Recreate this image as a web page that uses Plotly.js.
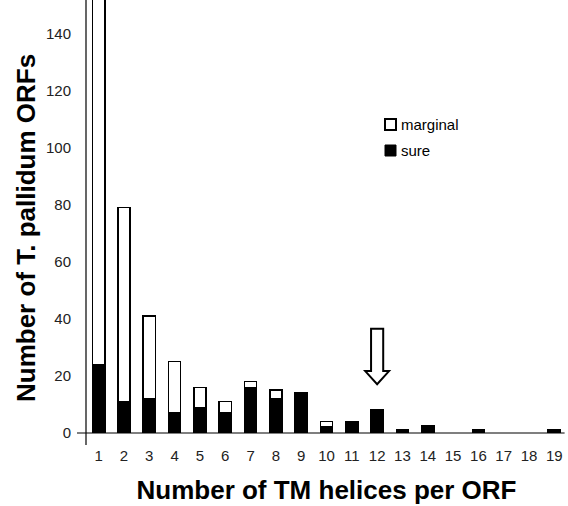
<!DOCTYPE html>
<html>
<head>
<meta charset="utf-8">
<script src="https://cdn.plot.ly/plotly-3.0.1.min.js"></script>
<style>html,body{margin:0;padding:0;background:#fff;}#chart{width:568px;height:506px;}</style>
</head>
<body>
<div id="chart"></div>
<script>
const helices = [1,2,3,4,5,6,7,8,9,10,11,12,13,14,15,16,17,18,19];
const tickLabels = helices.map(String);
const sure     = [24,11,12,7,9,7,16,12,14,2,4,8,1,2.5,0,1,0,0,1];
const marginal = [146,68,29,18,7,4,2,3,0,2,0,0,0,0,0,0,0,0,0];
const legendNames = ['marginal','sure'];
const xTitle = 'Number of TM helices per ORF';
const yTitle = 'Number of T. pallidum ORFs';
const arrowX = 12, arrowTop = 36.5, arrowNeck = 21.7, arrowTip = 17.1;

const font = 'Liberation Sans, Arial, sans-serif';
const barLine = {color:'#000', width:1.6};
const traces = [
  {type:'bar', x:helices, y:sure.map(v => v === 0 ? null : v), name:legendNames[1], width:0.48,
   marker:{color:'#000', line:barLine}},
  {type:'bar', x:helices, y:marginal.map(v => v === 0 ? null : v), name:legendNames[0], width:0.48,
   marker:{color:'#fff', line:barLine}}
];

const sw = 0.24, hw = 0.47;
const arrowPath = `M${arrowX-sw},${arrowTop} L${arrowX+sw},${arrowTop} L${arrowX+sw},${arrowNeck} L${arrowX+hw},${arrowNeck} L${arrowX},${arrowTip} L${arrowX-hw},${arrowNeck} L${arrowX-sw},${arrowNeck} Z`;

const layout = {
  width:568, height:506,
  margin:{l:86, r:1, t:0, b:73},
  paper_bgcolor:'#fff', plot_bgcolor:'#fff',
  barmode:'stack', showlegend:false,
  font:{family:font, color:'#000'},
  xaxis:{range:[0.5,19.5], tickvals:helices, ticktext:tickLabels,
    showgrid:false, zeroline:false, showline:false, ticks:'',
    tickfont:{size:15, color:'#222'}, ticklabelstandoff:12,
    title:{text:'<b>' + xTitle + '</b>', font:{size:26, color:'#000'}, standoff:17}},
  yaxis:{range:[0,151.7], tickvals:[0,20,40,60,80,100,120,140],
    showgrid:false, zeroline:false, showline:false, ticks:'',
    tickfont:{size:15, color:'#222'}, ticklabelstandoff:14},
  shapes:[
    {type:'line', xref:'paper', yref:'paper', x0:0, x1:0, y0:1, y1:-12/433, line:{color:'#000', width:1.2}},
    {type:'line', xref:'paper', yref:'paper', x0:-9/481, x1:0.995, y0:0, y1:0, line:{color:'#000', width:1.2}},
    {type:'path', xref:'x', yref:'y', path:arrowPath, fillcolor:'#fff', line:{color:'#000', width:2}},
    {type:'rect', xref:'paper', yref:'paper', x0:(385-86)/481, x1:(396-86)/481, y0:(433-130)/433, y1:(433-119)/433, fillcolor:'#fff', line:{color:'#000', width:2}},
    {type:'rect', xref:'paper', yref:'paper', x0:(385-86)/481, x1:(396-86)/481, y0:(433-156)/433, y1:(433-145)/433, fillcolor:'#000', line:{color:'#000', width:1}}
  ],
  annotations:[
    {xref:'paper', yref:'paper', x:(26-86)/481, y:(433-228)/433, xanchor:'center', yanchor:'middle', textangle:-90, showarrow:false, text:'<b>' + yTitle + '</b>', font:{size:26, color:'#000'}},
    {xref:'paper', yref:'paper', x:(399-86)/481, y:(433-124.5)/433, xanchor:'left', yanchor:'middle', showarrow:false, text:legendNames[0], font:{size:15, color:'#000'}},
    {xref:'paper', yref:'paper', x:(399-86)/481, y:(433-150)/433, xanchor:'left', yanchor:'middle', showarrow:false, text:legendNames[1], font:{size:15, color:'#000'}}
  ]
};
Plotly.newPlot('chart', traces, layout, {displayModeBar:false, staticPlot:true});
</script>
</body>
</html>
